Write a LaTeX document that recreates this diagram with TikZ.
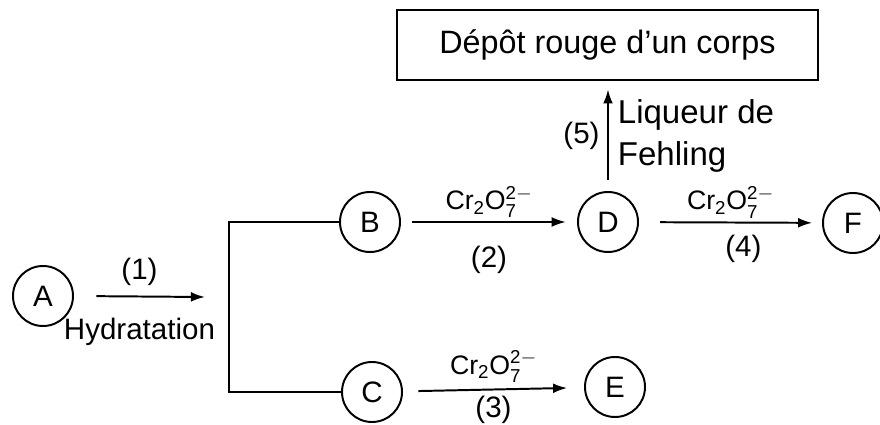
\documentclass[tikz,border=0pt]{standalone}
\usepackage{amsmath}
\usepackage{fontspec}
\setmainfont{Liberation Sans}
\usetikzlibrary{arrows.meta}

\begin{document}
\begin{tikzpicture}[x=0.025cm,y=-0.025cm,line width=1.4pt,
  font=\fontsize{21}{25}\selectfont,
  mol/.style={circle,draw,minimum size=1.5cm,inner sep=0pt},
  reac/.style={-{Latex[length=10pt,width=7pt]}},
  lab/.style={font=\fontsize{19}{23}\selectfont}]
\useasboundingbox (0,0) rectangle (880,425);
% molecules
\node[mol] (A) at (43,296) {A};
\node[mol] (B) at (370,222) {B};
\node[mol] (C) at (372,392) {C};
\node[mol] (D) at (608,222) {D};
\node[mol] (E) at (615,387) {E};
\node[mol] (F) at (853,223) {F};

% product of the Fehling test
\node[draw,minimum width=10.525cm,minimum height=1.75cm,font=\fontsize{23}{27}\selectfont] (dep) at (607.5,45) {D\'ep\^ot rouge d'un corps};

% hydration (1) and branching
\coordinate (h) at (205,297);
\coordinate (br) at (229,310);
\draw[reac,shorten <=16pt] (A.east) -- (h)
  node[midway,above=4pt] {(1)}
  node[midway,below=11pt] {Hydratation};
\draw (B.west) -| (br) |- (C.west);

% oxidations
\draw[reac,shorten <=8pt,shorten >=8pt] (B) -- (D)
  node[midway,above=-1pt,lab] {$\mathrm{Cr_2O_7^{2-}}$}
  node[midway,below=13pt] {(2)};
\draw[reac,shorten <=15pt,shorten >=7pt] (D) -- (F)
  node[midway,above=-1pt,lab] {$\mathrm{Cr_2O_7^{2-}}$}
  node[pos=0.57,below=5pt] {(4)};
\draw[reac,shorten <=11pt,shorten >=12pt] (C) -- (E)
  node[midway,above=1pt,lab] {$\mathrm{Cr_2O_7^{2-}}$}
  node[midway,below=1pt] {(3)};

% Fehling test (5)
\draw[reac,shorten <=8pt,shorten >=6pt] (D.north) -- (D.north |- dep.south)
  node[midway,left=2pt] {(5)}
  node[midway,right=3pt,align=left,font=\fontsize{23.5}{30}\selectfont] {Liqueur de\\Fehling};
\end{tikzpicture}
\end{document}
